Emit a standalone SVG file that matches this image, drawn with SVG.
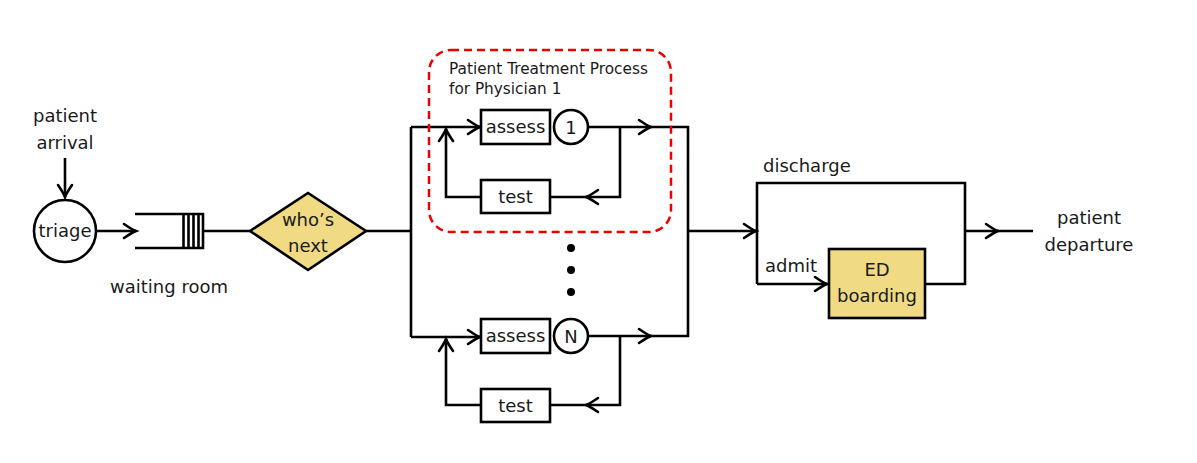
<svg xmlns="http://www.w3.org/2000/svg" width="1197" height="463" viewBox="0 0 1197 463">
<style>
.ln{fill:none;stroke:#000;stroke-width:2.6}
.bx{fill:#fff;stroke:#000;stroke-width:2.6}
.yl{fill:#F0DA84;stroke:#000;stroke-width:2.6}
.t{font-family:"DejaVu Sans",sans-serif;font-size:18px;fill:#1a1a1a;text-anchor:middle}
.tl{font-family:"DejaVu Sans",sans-serif;font-size:18px;fill:#1a1a1a}
.ts{font-family:"DejaVu Sans",sans-serif;font-size:15.3px;fill:#1a1a1a}
.ar{marker-end:url(#a)}
</style>
<defs>
<marker id="a" markerUnits="userSpaceOnUse" viewBox="-14 -9 16 18" markerWidth="16" markerHeight="18" refX="0" refY="0" orient="auto" overflow="visible">
<path d="M-12,-7 Q-4,-1.5 0,0 Q-4,1.5 -12,7" fill="none" stroke="#000" stroke-width="2.6" stroke-linecap="round"/>
</marker>
</defs>
<g id="connectors">
<path class="ln ar" d="M65,158 V197"/>
<path class="ln ar" d="M96,231 H136"/>
<path class="ln" d="M203,231 H250"/>
<path class="ln" d="M366,231 H411 M411,127 V337"/>
<path class="ln ar" d="M411,127 H480"/>
<path class="ln ar" d="M411,337 H480"/>
<path class="ln ar" d="M589,127 H651"/>
<path class="ln" d="M651,127 H688 V336 H651"/>
<path class="ln ar" d="M589,336 H651"/>
<path class="ln ar" d="M620,127 V197 H586"/>
<path class="ln" d="M586,197 H550"/>
<path class="ln ar" d="M481,197 H446 V129"/>
<path class="ln ar" d="M620,336 V405 H586"/>
<path class="ln" d="M586,405 H550"/>
<path class="ln ar" d="M481,405 H446 V339"/>
<path class="ln ar" d="M688,231 H756"/>
<path class="ln" d="M757,284 V183 H965 V284 H925"/>
<path class="ln ar" d="M757,284 H827"/>
<path class="ln ar" d="M965,231 H998"/>
<path class="ln" d="M998,231 H1033"/>
</g>
<g id="arrival"><text class="t" x="65" y="122">patient</text><text class="t" x="65" y="149">arrival</text></g>
<g id="triage"><circle class="bx" cx="65" cy="231" r="31"/><text class="t" x="65" y="237">triage</text></g>
<g id="waiting-room">
<path class="ln" d="M135,214 H203 V248 H135 M183.5,214 V248 M188.5,214 V248 M193.5,214 V248 M198.5,214 V248"/>
<text class="t" x="169" y="293">waiting room</text>
</g>
<g id="whos-next"><path class="yl" d="M250,231 L308,193 L366,231 L308,270 Z"/><text class="t" x="308" y="226">who’s</text><text class="t" x="308" y="252">next</text></g>
<g id="physician-box"><rect x="429" y="50" width="242" height="182" rx="22" fill="none" stroke="#e00" stroke-width="2.5" stroke-dasharray="8,5"/>
<text class="ts" x="449" y="74">Patient Treatment Process</text><text class="ts" x="449" y="94">for Physician 1</text></g>
<g id="assess1"><rect class="bx" x="481" y="110" width="69" height="34"/><text class="t" x="515.5" y="133">assess</text></g>
<g id="server1"><circle class="bx" cx="571" cy="127" r="17"/><text class="t" x="571" y="134">1</text></g>
<g id="test1"><rect class="bx" x="481" y="180" width="69" height="33"/><text class="t" x="515.5" y="203">test</text></g>
<g id="dots"><circle cx="571" cy="248" r="4"/><circle cx="571" cy="270" r="4"/><circle cx="571" cy="292" r="4"/></g>
<g id="assessN"><rect class="bx" x="481" y="319" width="69" height="34"/><text class="t" x="515.5" y="342">assess</text></g>
<g id="serverN"><circle class="bx" cx="571" cy="336" r="17"/><text class="t" x="571" y="343">N</text></g>
<g id="testN"><rect class="bx" x="481" y="389" width="69" height="33"/><text class="t" x="515.5" y="412">test</text></g>
<g id="discharge"><text class="tl" x="763" y="172">discharge</text></g>
<g id="admit"><text class="tl" x="765" y="272">admit</text></g>
<g id="ed-boarding"><rect class="yl" x="829" y="249" width="96" height="69"/><text class="t" x="877" y="276">ED</text><text class="t" x="877" y="302">boarding</text></g>
<g id="departure"><text class="t" x="1089" y="224">patient</text><text class="t" x="1089" y="251">departure</text></g>
</svg>
